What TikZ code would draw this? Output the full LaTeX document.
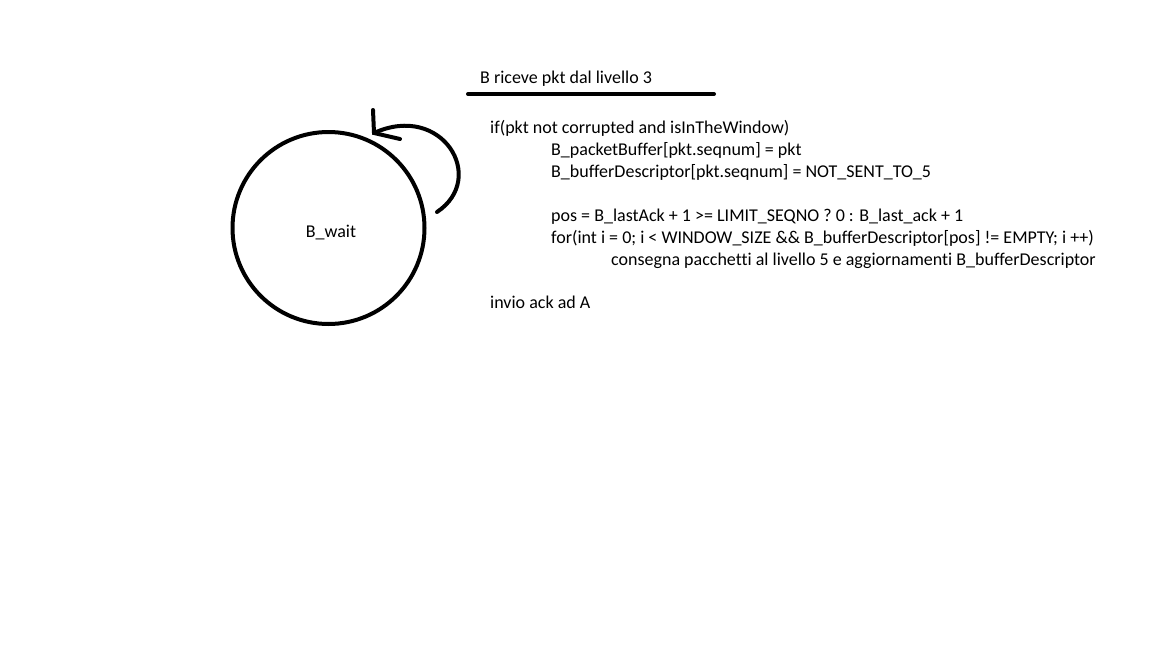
\documentclass[tikz,border=0pt]{standalone}
\usepackage{fontspec}
\setmainfont[Ligatures={NoCommon}]{Carlito}
\begin{document}
\begin{tikzpicture}[x=1pt,y=-1pt,
  txt/.style={anchor=base west,inner sep=0pt,font=\fontsize{18}{22}\selectfont},
  thick line/.style={line width=4pt,line cap=round}]
\useasboundingbox[fill=white] (0,0) rectangle (1152,648);
\node[draw,circle,line width=4pt,minimum size=192pt,inner sep=0pt] (w) at (328.5,228) {};
\node[txt,anchor=base] (wl) at (331,237) {B\_wait};
\coordinate (ls) at (437,212);
\coordinate (lt) at (374,133);
\coordinate (b1) at (373,110);
\coordinate (b2) at (400,139);
\draw[thick line] (ls) .. controls (488,178) and (442,102) .. (lt);
\draw[thick line] (b1) -- (lt) -- (b2);
\node[txt] (title) at (480,83) {B riceve pkt dal livello 3};
\coordinate (u1) at (468,94);
\coordinate (u2) at (714,94);
\draw[thick line] (u1) -- (u2);
\node[txt] (l1) at (490,133) {if(pkt not corrupted and isInTheWindow)};
\node[txt] (l2) at (551,155) {B\_packetBuffer[pkt.seqnum] = pkt};
\node[txt] (l3) at (551,177) {B\_bufferDescriptor[pkt.seqnum] = NOT\_SENT\_TO\_5};
\node[txt] (l4) at (551,221) {pos = B\_lastAck + 1 >= LIMIT\_SEQNO ? 0 : B\_last\_ack + 1};
\node[txt] (l5) at (551,243) {for(int i = 0; i < WINDOW\_SIZE \&\& B\_bufferDescriptor[pos] != EMPTY; i ++)};
\node[txt] (l6) at (611,265) {consegna pacchetti al livello 5 e aggiornamenti B\_bufferDescriptor};
\node[txt] (l7) at (490,308) {invio ack ad A};
\end{tikzpicture}
\end{document}
